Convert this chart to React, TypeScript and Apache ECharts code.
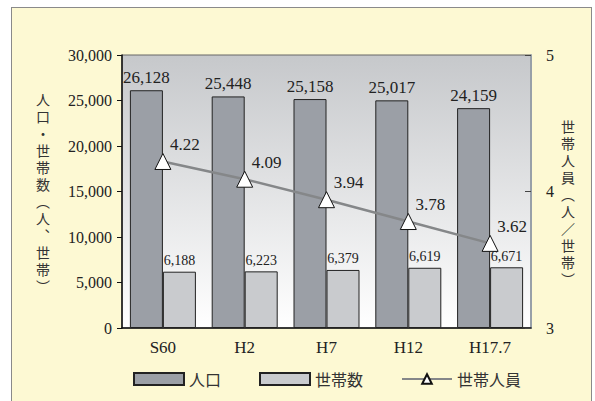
import React, { useEffect, useRef } from "react";
import * as echarts from "echarts";

const categories = ["S60", "H2", "H7", "H12", "H17.7"];
const population = [26128, 25448, 25158, 25017, 24159];
const households = [6188, 6223, 6379, 6619, 6671];
const perHousehold = [4.22, 4.09, 3.94, 3.78, 3.62];
const leftNameChars = ["人", "口", "・", "世", "帯", "数", "︵", "人", "︑", "世", "帯", "︶"];
const rightNameChars = ["世", "帯", "人", "員", "︵", "人", "／", "世", "帯", "︶"];

const SERIF = "Liberation Serif";
const CJK = "Noto Sans CJK JP";
const VCJK = "'Liberation Serif', 'Noto Sans CJK JP'";

export default function App() {
  const ref = useRef<HTMLDivElement>(null);
  useEffect(() => {
    document.body.style.margin = "0";
    const chart = echarts.init(ref.current!, null, { renderer: "svg" });
    const fmt = (v: number) => v.toLocaleString("en-US");
    const nameText = (chars: string[], x: number, y0: number) =>
      chars.map((c, i) => ({
        type: "text",
        x,
        y: y0 + i * 17,
        style: {
          text: c,
          fontFamily: VCJK,
          fontSize: 14,
          fill: "#333",
          align: "center",
          verticalAlign: "middle",
        },
      }));
    chart.setOption({
      animation: false,
      backgroundColor: "transparent",
      grid: {
        left: 122,
        top: 55,
        right: 64,
        bottom: 73,
        show: true,
        borderColor: "#666",
        borderWidth: 1,
        backgroundColor: new echarts.graphic.LinearGradient(0, 0, 0, 1, [
          { offset: 0, color: "#c6c8cb" },
          { offset: 1, color: "#ffffff" },
        ]),
      },
      legend: {
        left: 128,
        top: 366,
        itemWidth: 50,
        itemHeight: 12,
        itemGap: 38,
        textStyle: { fontFamily: CJK, fontSize: 16, color: "#333" },
        data: [
          { name: "人口", icon: "rect" },
          { name: "世帯数", icon: "rect" },
          { name: "世帯人員" },
        ],
      },
      xAxis: {
        type: "category",
        data: categories,
        axisLine: { lineStyle: { color: "#111", width: 1.5 } },
        axisTick: { inside: true, length: 6, lineStyle: { color: "#111" } },
        axisLabel: { fontFamily: SERIF, fontSize: 17, color: "#222", margin: 11 },
      },
      yAxis: [
        {
          type: "value",
          min: 0,
          max: 30000,
          interval: 5000,
          splitLine: { show: false },
          axisLine: { show: true, lineStyle: { color: "#111", width: 1.5 } },
          axisTick: { show: true, length: 5, lineStyle: { color: "#111" } },
          axisLabel: { fontFamily: SERIF, fontSize: 16, color: "#222", margin: 10, formatter: fmt },
        },
        {
          type: "value",
          min: 3,
          max: 5,
          interval: 1,
          position: "right",
          splitLine: { show: false },
          axisLine: { show: true, lineStyle: { color: "#98a0a8", width: 2 } },
          axisTick: { show: true, inside: true, length: 6, lineStyle: { color: "#444" } },
          axisLabel: { fontFamily: SERIF, fontSize: 16, color: "#222", margin: 15 },
        },
      ],
      series: [
        {
          name: "人口",
          type: "bar",
          data: population,
          barWidth: 33,
          barGap: "0%",
          itemStyle: { color: "#9b9fa6", borderColor: "#222", borderWidth: 1 },
          label: {
            show: true,
            position: "top",
            distance: 4,
            fontFamily: SERIF,
            fontSize: 17,
            color: "#222",
            formatter: (p: any) => fmt(p.value),
          },
        },
        {
          name: "世帯数",
          type: "bar",
          data: households,
          barWidth: 33,
          barGap: "0%",
          itemStyle: { color: "#c9cbce", borderColor: "#222", borderWidth: 1 },
          label: {
            show: true,
            position: "top",
            distance: 4,
            fontFamily: SERIF,
            fontSize: 14,
            color: "#222",
            formatter: (p: any) => fmt(p.value),
          },
        },
        {
          name: "世帯人員",
          type: "line",
          yAxisIndex: 1,
          data: perHousehold,
          symbol: "triangle",
          symbolSize: 16,
          z: 5,
          lineStyle: { color: "#858789", width: 2.5 },
          itemStyle: { color: "#ffffff", borderColor: "#111", borderWidth: 1 },
          label: {
            show: true,
            position: "top",
            offset: [22, 5],
            fontFamily: SERIF,
            fontSize: 17,
            color: "#222",
            formatter: (p: any) => p.value.toFixed(2),
          },
        },
      ],
      graphic: [...nameText(leftNameChars, 43, 100), ...nameText(rightNameChars, 568, 127)],
    });
    return () => chart.dispose();
  }, []);
  return (
    <div style={{ position: "relative", width: 595, height: 401, overflow: "hidden", background: "#fff" }}>
      <div
        style={{
          position: "absolute",
          left: 11,
          top: 7,
          width: 579,
          height: 420,
          border: "1.5px solid #8a8a8a",
          background: "#fdf9d3",
        }}
      />
      <div ref={ref} style={{ position: "absolute", left: 0, top: 0, width: 595, height: 401 }} />
    </div>
  );
}
